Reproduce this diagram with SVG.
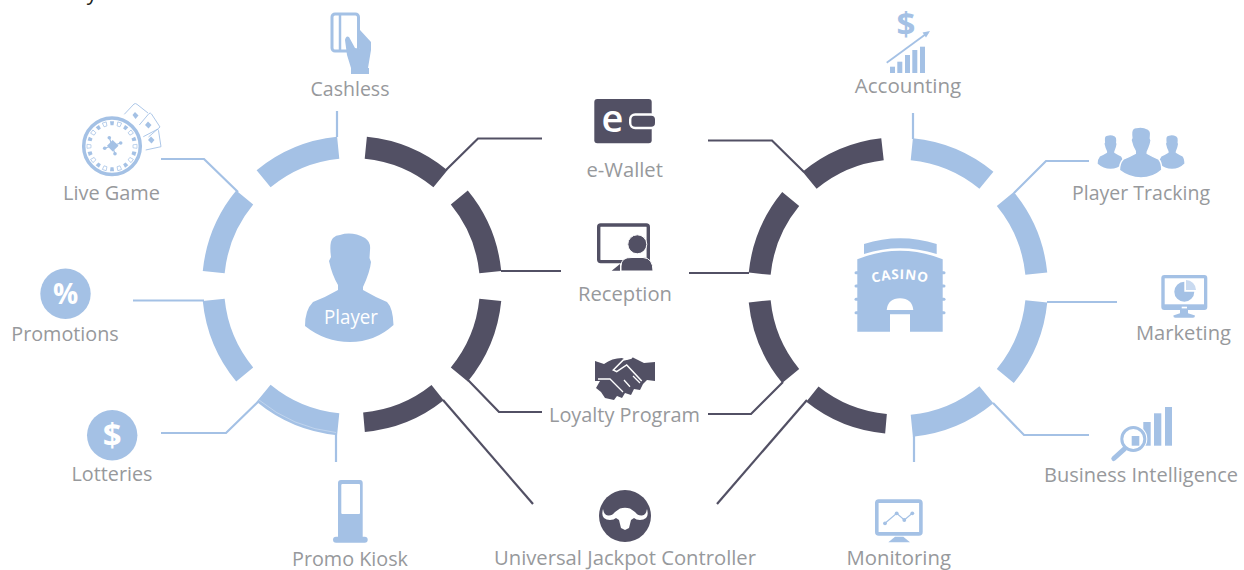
<svg xmlns="http://www.w3.org/2000/svg" xmlns:xlink="http://www.w3.org/1999/xlink" width="1244" height="570" viewBox="0 0 1244 570">
<style>
text{font-family:"Open Sans","Noto Sans",sans-serif}
.l{fill:#97999c;font-size:20.500px;text-anchor:middle}
.b{fill:#a4c1e5}
.d{fill:#525064}
.w{fill:#fff}
.ab{fill:none;stroke:#a4c1e5;stroke-width:22}
.ad{fill:none;stroke:#525064;stroke-width:22}
.cb{fill:none;stroke:#a4c1e5;stroke-width:2.200}
.cd{fill:none;stroke:#525064;stroke-width:2.200}
.ob{fill:none;stroke:#a4c1e5}
.od{fill:none;stroke:#525064}
.ow{fill:none;stroke:#fff}
.g{font-weight:700;text-anchor:middle}
</style>
<defs>
<path id="person" d="M340 235Q352 231 365 238Q371 242 370 250L369.500 258L371 262Q370 272 363 287L363 290Q375 297 387 302Q393 308 393.500 325Q375 342 350 342Q325 342 305 326Q305 310 313 302Q326 297 338 290L338 285Q332 275 329 261L331 257Q329 242 333 238Q336 235 340 235Z"/>
<path id="pf" class="b" d="M-2 -25h4l-.5 4h-3z"/>
<path id="po" class="ob" stroke-width=".7" d="M-2 -25h4l-.5 4h-3z"/>
</defs>

<text id="clipped-text" x="92" y="0" font-size="21" text-anchor="middle" fill="#231f20">y</text>

<g id="connectors">
<path class="cb" d="M337 111V137"/>
<path class="cb" d="M161 159H204L238 192"/>
<path class="cb" d="M133 300.500H204"/>
<path class="cb" d="M161 433H226L262 398"/>
<path class="cb" d="M336 435V462"/>
<path class="cd" d="M542 138.500H478L446 170"/>
<path class="cd" d="M501 271H561"/>
<path class="cd" d="M468 380L499 412H542"/>
<path class="cd" d="M443 400L533 504"/>
<path class="cd" d="M708 140.500H772L804 172"/>
<path class="cd" d="M689 273H749"/>
<path class="cd" d="M708 414H751L783 382"/>
<path class="cd" d="M717 504L807 400"/>
<path class="cb" d="M913 113V139"/>
<path class="cb" d="M1089 161H1046L1014 193"/>
<path class="cb" d="M1047 302H1117"/>
<path class="cb" d="M993 403L1024 435H1089"/>
<path class="cb" d="M914 436V462"/>
</g>

<g id="ring-player" transform="translate(352 286)">
<path class="ad" d="M13.800 -138.300A139 139 0 0 1 88.400 -107.300"/>
<path class="ad" d="M107.300 -88.400A139 139 0 0 1 138.300 -13.800"/>
<path class="ad" d="M138.300 13.800A139 139 0 0 1 107.300 88.400"/>
<path class="ad" style="stroke-width:19.500px" d="M85.600 106.700A136.750 136.750 0 0 1 12 136.200"/>
<path class="ab" d="M-13.800 138.300A139 139 0 0 1 -88.400 107.300"/>
<path fill="none" stroke="#fff" stroke-opacity=".6" stroke-width=".5" d="M-16 146.500A147.300 147.300 0 0 1 -93 114"/>
<path class="ab" d="M-107.300 88.400A139 139 0 0 1 -138.300 13.800"/>
<path class="ab" d="M-138.300 -13.800A139 139 0 0 1 -107.300 -88.400"/>
<path class="ab" d="M-88.400 -107.300A139 139 0 0 1 -13.800 -138.300"/>
</g>

<g id="ring-casino" transform="translate(898 287.500)">
<path class="ab" d="M13.800 -138.300A139 139 0 0 1 88.400 -107.300"/>
<path class="ab" d="M107.300 -88.400A139 139 0 0 1 138.300 -13.800"/>
<path class="ab" d="M138.300 13.800A139 139 0 0 1 107.300 88.400"/>
<path class="ab" d="M88.400 107.300A139 139 0 0 1 13.800 138.300"/>
<path class="ad" style="stroke-width:19.500px" d="M-12 136.200A136.750 136.750 0 0 1 -85.600 106.700"/>
<path class="ad" d="M-107.300 88.400A139 139 0 0 1 -138.300 13.800"/>
<path class="ad" d="M-138.300 -13.800A139 139 0 0 1 -107.300 -88.400"/>
<path class="ad" d="M-88.400 -107.300A139 139 0 0 1 -15.500 -138.300"/>
</g>

<g id="player">
<use xlink:href="#person" href="#person" class="b"/>
<text x="351" y="324" font-size="20.500" fill="#fff" text-anchor="middle" textLength="54" lengthAdjust="spacingAndGlyphs">Player</text>
</g>

<g id="casino">
<path class="b" d="M864 244Q900 232.500 936.700 244V254Q900 242.500 864 254Z"/>
<path class="b" d="M857.300 259.300Q900 242 942.700 259.300V331.700H910V313H890V331.700H857.300Z"/>
<rect class="b" x="854.500" y="271.200" width="91" height="3" rx="1.500"/>
<rect class="b" x="854.500" y="284.500" width="91" height="3" rx="1.500"/>
<rect class="b" x="854.500" y="297.800" width="91" height="3" rx="1.500"/>
<rect class="b" x="854.500" y="311.200" width="91" height="3" rx="1.500"/>
<path class="w" d="M886.700 310Q888 298.300 900 298.300Q912 298.300 913.300 310Z"/>
<path id="casino-arc" fill="none" d="M870 284Q900 274 930 284"/>
<text font-size="13.500" font-weight="700" fill="#fff" letter-spacing=".6" text-anchor="middle"><textPath xlink:href="#casino-arc" href="#casino-arc" startOffset="50%">CASINO</textPath></text>
</g>

<g id="cashless">
<rect class="ob" stroke-width="3" x="332" y="14" width="26.500" height="37" rx="3"/>
<path class="ob" stroke-width="2.500" d="M340 14V51"/>
<path class="b" d="M360 30L371 42V50L368 68H369V74H351V68L347 55L345 40Q346 35 349 37L355 48L360 49Z"/>
<text class="l" x="350" y="96" textLength="79" lengthAdjust="spacingAndGlyphs">Cashless</text>
</g>

<g id="live-game">
<circle class="ob" stroke-width="3.500" cx="112" cy="146.300" r="28.300"/>
<g transform="translate(112 146.300)">
<use xlink:href="#pf" href="#pf"/><use xlink:href="#po" href="#po" transform="rotate(18)"/><use xlink:href="#pf" href="#pf" transform="rotate(36)"/><use xlink:href="#po" href="#po" transform="rotate(54)"/><use xlink:href="#pf" href="#pf" transform="rotate(72)"/><use xlink:href="#po" href="#po" transform="rotate(90)"/><use xlink:href="#pf" href="#pf" transform="rotate(108)"/><use xlink:href="#po" href="#po" transform="rotate(126)"/><use xlink:href="#pf" href="#pf" transform="rotate(144)"/><use xlink:href="#po" href="#po" transform="rotate(162)"/><use xlink:href="#pf" href="#pf" transform="rotate(180)"/><use xlink:href="#po" href="#po" transform="rotate(198)"/><use xlink:href="#pf" href="#pf" transform="rotate(216)"/><use xlink:href="#po" href="#po" transform="rotate(234)"/><use xlink:href="#pf" href="#pf" transform="rotate(252)"/><use xlink:href="#po" href="#po" transform="rotate(270)"/><use xlink:href="#pf" href="#pf" transform="rotate(288)"/><use xlink:href="#po" href="#po" transform="rotate(306)"/><use xlink:href="#pf" href="#pf" transform="rotate(324)"/><use xlink:href="#po" href="#po" transform="rotate(342)"/>
</g>
<path class="b" d="M112.700 140L118.500 145.700L112.700 151.500L107 145.700Z"/>
<path class="ob" stroke-width="1.200" d="M109.300 137.700L115 153.700M120.700 143L104.700 148.300"/>
<circle class="b" cx="109.300" cy="137.700" r="1.800"/><circle class="b" cx="120.700" cy="143" r="1.800"/><circle class="b" cx="115" cy="153.700" r="1.800"/><circle class="b" cx="104.700" cy="148.300" r="1.800"/>
<path class="ob" stroke-width=".9" d="M124.300 114.300L134 104Q135.500 103 137 104.300L148 113"/>
<path class="ob" stroke-width=".9" d="M139.300 125L149 113.500Q150.500 112.500 151.500 114L160 127L148.500 137"/>
<path class="ob" stroke-width=".9" d="M143.300 136.700L157 129.500Q158.300 129 158.500 130.500L161 146.700L145.700 150"/>
<path class="b" d="M135 112L138.500 115.500L135.500 119L132.500 115Z"/>
<path class="b" d="M148 121.500L151.500 125L148.500 128.500L145 125Z"/>
<path class="b" d="M151 136.500L154.500 140L151.500 143.500L148 140Z"/>
<text class="l" x="111.500" y="200" textLength="97" lengthAdjust="spacingAndGlyphs">Live Game</text>
</g>

<g id="promotions">
<circle class="b" cx="65.500" cy="293.800" r="25.200"/>
<text class="g" x="65.500" y="304" font-size="28" fill="#fff">%</text>
<text class="l" x="65" y="341" textLength="107.500" lengthAdjust="spacingAndGlyphs">Promotions</text>
</g>

<g id="lotteries">
<circle class="b" cx="112.200" cy="435.300" r="25.200"/>
<text class="g" x="112.200" y="447" font-size="33" fill="#fff">$</text>
<text class="l" x="112" y="481" textLength="81" lengthAdjust="spacingAndGlyphs">Lotteries</text>
</g>

<g id="promo-kiosk">
<path class="b" d="M338 483Q338 480 341 480H360Q362.700 480 362.700 483V537H338Z"/>
<rect class="w" x="341.300" y="484" width="18.700" height="30" rx="1"/>
<rect class="b" x="333" y="536.700" width="34.700" height="6" rx="3"/>
<text class="l" x="350" y="566" textLength="116" lengthAdjust="spacingAndGlyphs">Promo Kiosk</text>
</g>

<g id="e-wallet">
<rect class="d" x="594.300" y="99" width="57.400" height="44.300" rx="3"/>
<rect class="d" x="630.200" y="114.500" width="26" height="13.500" rx="5" stroke="#fff" stroke-width="2.400"/>
<text x="612.500" y="131.500" font-size="38" font-weight="600" text-anchor="middle" fill="#fff">e</text>
<text class="l" x="624.700" y="177" textLength="76.500" lengthAdjust="spacingAndGlyphs">e-Wallet</text>
</g>

<g id="reception">
<rect class="od" stroke-width="3.400" x="598.700" y="225" width="49.600" height="36.600" rx="2"/>
<path class="d" d="M611.700 270.700L620 264V270.700Z"/>
<circle class="d" cx="637.300" cy="244.300" r="9.500" stroke="#fff" stroke-width="1"/>
<path class="d" d="M621 271V266Q621 257 632 257.500H643Q653 258 653 271Z" stroke="#fff" stroke-width="1"/>
<text class="l" x="625" y="301" textLength="94" lengthAdjust="spacingAndGlyphs">Reception</text>
</g>

<g id="loyalty-program">
<path class="d" d="M595 361L604 364Q612 358 622 358L626 360L633 357.500L644 363L655 362V381L647 380L643 384L640 390L634 389L631 395L625 393L622 398L617 396L614 400L605 398L601 392L596 388L600 381L595 381Z"/>
<path class="ow" stroke-width="1.500" d="M641.700 381L626.700 365L616.700 371.700L613.300 370L623.300 360L631.700 358"/>
<path class="ow" stroke-width="1.300" d="M598 379H610L623 392M630 386.700L624 380M640 383L633 376"/>
<text class="l" x="624.500" y="422" textLength="151" lengthAdjust="spacingAndGlyphs">Loyalty Program</text>
</g>

<g id="universal-jackpot-controller">
<circle class="d" cx="625" cy="516" r="26"/>
<path class="w" d="M603 509Q604 515 608 515.500Q612 516 615 512L620 508.500Q625 507 630 508.500L635 512Q638 516 642 515.500Q646 515 647 509Q650 520 640 520Q636 520 634 518L631 520L629 528L625 530L621 528L619 520L616 518Q614 520 610 520Q600 520 603 509Z"/>
<text class="l" x="625" y="565" textLength="262" lengthAdjust="spacingAndGlyphs">Universal Jackpot Controller</text>
</g>

<g id="accounting">
<text class="g b" x="906" y="36" font-size="33">$</text>
<path class="ob" stroke-width="1.800" d="M886.700 62.700L928 32.500"/>
<path class="b" d="M930 31L922.500 32.500L926 37.500Z"/>
<rect class="b" x="890" y="66.700" width="5" height="6.300"/>
<rect class="b" x="897.300" y="61.700" width="5" height="11.300"/>
<rect class="b" x="905" y="55" width="5" height="18"/>
<rect class="b" x="912.300" y="50" width="5" height="23"/>
<rect class="b" x="920" y="46.700" width="5" height="26.300"/>
<text class="l" x="908" y="93" textLength="106.500" lengthAdjust="spacingAndGlyphs">Accounting</text>
</g>

<g id="player-tracking">
<use xlink:href="#person" href="#person" class="b" transform="translate(1010.750 62.800) scale(.285 .31)"/>
<use xlink:href="#person" href="#person" class="b" transform="translate(1072.250 62.800) scale(.285 .31)"/>
<use xlink:href="#person" href="#person" class="b" stroke="#fff" stroke-width="3" transform="translate(973 17.200) scale(.48 .47)"/>
<text class="l" x="1141" y="200" textLength="138" lengthAdjust="spacingAndGlyphs">Player Tracking</text>
</g>

<g id="marketing">
<rect class="b" x="1161.300" y="275" width="46" height="35" rx="3"/>
<rect class="w" x="1164.700" y="278.300" width="39.300" height="26"/>
<rect class="w" x="1181.700" y="306.700" width="5.300" height="1.700"/>
<path class="b" d="M1180 310H1188V313.300L1195 315.500Q1195 317.700 1193 317.700H1175.300Q1173.300 317.700 1173.300 315.500L1180 313.300Z"/>
<path class="b" d="M1184.300 281.700A10 10 0 1 0 1194.300 291.700H1184.300Z"/>
<path fill="#c9daf0" d="M1186 280A10 10 0 0 1 1196 290H1186Z"/>
<text class="l" x="1183.500" y="340" textLength="95" lengthAdjust="spacingAndGlyphs">Marketing</text>
</g>

<g id="business-intelligence">
<rect class="b" x="1165" y="407" width="7" height="38.700"/>
<rect class="b" x="1154" y="413.300" width="7.300" height="32.400"/>
<rect class="b" x="1143.300" y="422" width="7.400" height="23.700"/>
<circle class="w" cx="1133.300" cy="439" r="14"/>
<circle class="ob" stroke-width="3" cx="1133.300" cy="439" r="11.500"/>
<rect class="b" x="1131.700" y="436" width="7.600" height="9.700"/>
<path class="ob" stroke-width="5" stroke-linecap="round" d="M1113.800 458.500L1124.500 448.800"/>
<text class="l" x="1141" y="482" textLength="194" lengthAdjust="spacingAndGlyphs">Business Intelligence</text>
</g>

<g id="monitoring">
<rect class="ob" stroke-width="3.600" x="876.800" y="501.100" width="44.100" height="32.800" rx="2"/>
<path class="b" d="M895 536.700H903.300L910 542.300H888.300Z"/>
<path class="ob" stroke-width="1.200" d="M885 523.300L896.700 513.300L904.300 520L912.300 513.300"/>
<circle class="b" cx="885" cy="523.300" r="1.900"/><circle class="b" cx="896.700" cy="513.300" r="1.900"/><circle class="b" cx="904.300" cy="520" r="1.900"/><circle class="b" cx="912.300" cy="513.300" r="1.900"/>
<text class="l" x="898.700" y="565" textLength="104.500" lengthAdjust="spacingAndGlyphs">Monitoring</text>
</g>
</svg>
